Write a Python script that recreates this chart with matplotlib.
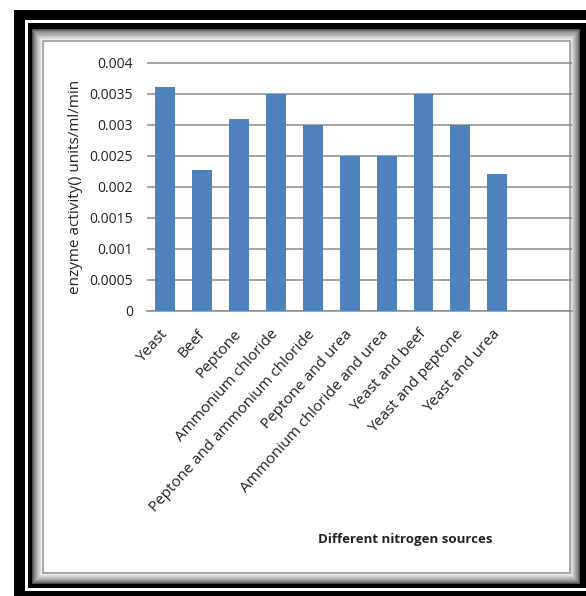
import numpy as np
import matplotlib
matplotlib.use('Agg')
import matplotlib.pyplot as plt
from matplotlib.patches import Rectangle

# datos
sources = ['Yeast', 'Beef', 'Peptone', 'Ammonium chloride',
           'Peptone and ammonium chloride', 'Peptone and urea',
           'Ammonium chloride and urea', 'Yeast and beef',
           'Yeast and peptone', 'Yeast and urea']
activity = [0.0036, 0.00227, 0.0031, 0.0035, 0.0030,
            0.0025, 0.0025, 0.0035, 0.0030, 0.0022]
yticks = [0, 0.0005, 0.001, 0.0015, 0.002, 0.0025, 0.003, 0.0035, 0.004]

plt.rcParams['font.family'] = ['Open Sans', 'DejaVu Sans']

W, H = 586, 596
fig = plt.figure(figsize=(W / 100, H / 100), dpi=100)
fig.patch.set_facecolor('white')


def px_rect(x0, y0, x1, y1, **kw):
    # rectangulo en pixeles (y hacia abajo)
    r = Rectangle((x0 / W, 1 - y1 / H), (x1 - x0) / W, (y1 - y0) / H,
                  transform=fig.transFigure, zorder=-10, **kw)
    fig.add_artist(r)
    return r


# marco negro doble
px_rect(14, 10, 620, 620, facecolor='black', edgecolor='none')
px_rect(25, 20, 620, 591, facecolor='white', edgecolor='none')
px_rect(28, 23, 586, 588, facecolor='black', edgecolor='none')
# sombra en degradado
steps = 11
for i in range(steps):
    g = 0.3 + 0.68 * (i / (steps - 1)) ** 0.7
    px_rect(32 + i, 29 + i * 1.1, 580 - i, 584 - i,
            facecolor=(g, g, g), edgecolor='none')
px_rect(43, 41, 570, 573, facecolor='white', edgecolor='#9a9a9a', lw=1.2)

# grafico
ax = fig.add_axes([147 / W, 1 - 311 / H, (572 - 147) / W, (311 - 62) / H])
ax.set_facecolor('none')
x = np.arange(len(sources))
ax.bar(x, activity, width=0.54, color='#4f81bd', zorder=3)

ax.set_xlim(-0.5, 11.03)
ax.set_ylim(0, 0.00401)
ax.set_yticks(yticks, ['%g' % v for v in yticks])
ax.yaxis.grid(True, color='#8c8c8c', lw=1.1, zorder=0)
for s in ['top', 'right', 'left']:
    ax.spines[s].set_visible(False)
ax.spines['bottom'].set_color('#8c8c8c')
ax.spines['bottom'].set_linewidth(1.1)

ax.tick_params(axis='y', length=0, pad=10, labelsize=10, labelcolor='#222222')
ax.tick_params(axis='x', length=0, pad=15, labelsize=11, labelcolor='#222222')
ax.set_xticks(x, sources, rotation=48, ha='right', va='center',
              rotation_mode='anchor')

fig.text(76 / W, 1 - 187 / H, 'enzyme activity() units/ml/min', rotation=90,
         ha='center', va='center', fontsize=11, color='#222222')
fig.text(405 / W, 1 - 540 / H, 'Different nitrogen sources', ha='center',
         va='center', fontsize=9.5, fontweight='bold', color='#222222')

plt.savefig('out.png', dpi=100)
